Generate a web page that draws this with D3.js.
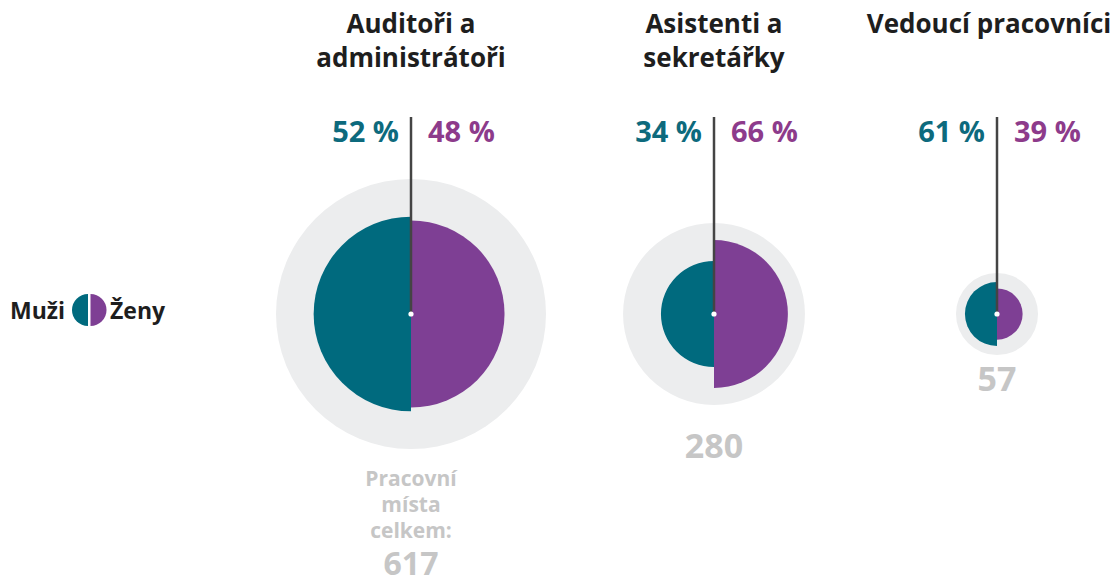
<!DOCTYPE html>
<html><head><meta charset="utf-8">
<script src="https://cdn.jsdelivr.net/npm/d3@7"></script>
<style>
html,body{margin:0;padding:0;background:#fff;}
svg{display:block;font-family:"Open Sans",sans-serif;font-weight:700;}
</style></head>
<body>
<svg id="c" width="1118" height="585"></svg>
<script>
// ---- data ----
const categories = [["Auditoři a","administrátoři"],["Asistenti a","sekretářky"],["Vedoucí pracovníci"]];
const totals = [617, 280, 57];
const menShare = [52, 34, 61];
const womenShare = [48, 66, 39];
const legendLabels = ["Muži","Ženy"];
const totalLabel = ["Pracovní","místa","celkem:"];

// ---- layout ----
const W = 1118, H = 585, cy = 314;
const groupX = [411, 714, 997];
const titleX = [411, 714, 989];
const colTeal = "#006a7e", colPurple = "#7e3f94";
const txtTeal = "#0d6a7d", txtPurple = "#8d3b8b";
const grey = "#ecedee", greyTxt = "#c6c6c6";

const svg = d3.select("#c");
const r = d3.scaleSqrt().domain([0, 617]).range([0, 135]);
const arc = d3.arc().innerRadius(0);

const g = svg.selectAll("g.grp").data(totals.map((t,i)=>({t,i}))).join("g")
  .attr("class","grp").attr("transform",d=>`translate(${groupX[d.i]},${cy})`);

g.append("circle").attr("r",d=>r(d.t)).attr("fill",grey);
g.append("path").attr("fill",colTeal)
  .attr("d",d=>arc({outerRadius:r(d.t*menShare[d.i]/100),startAngle:Math.PI,endAngle:2*Math.PI}));
g.append("path").attr("fill",colPurple)
  .attr("d",d=>arc({outerRadius:r(d.t*womenShare[d.i]/100),startAngle:0,endAngle:Math.PI}));
g.append("line").attr("x1",0).attr("x2",0).attr("y1",117-cy).attr("y2",0)
  .attr("stroke","#444").attr("stroke-width",2.5);
g.append("circle").attr("r",2.6).attr("fill","#fff");

// percent labels
g.append("text").attr("x",-12).attr("y",142-cy).attr("text-anchor","end")
  .attr("font-size",29).attr("fill",txtTeal).text(d=>menShare[d.i]+" %");
g.append("text").attr("x",17).attr("y",142-cy).attr("text-anchor","start")
  .attr("font-size",29).attr("fill",txtPurple).text(d=>womenShare[d.i]+" %");

// titles
categories.forEach((lines,i)=>{
  lines.forEach((ln,j)=>{
    svg.append("text").attr("x",titleX[i]).attr("y",33+j*34).attr("text-anchor","middle")
      .attr("font-size",26).attr("fill","#1e1e1e").text(ln);
  });
});

// totals
totalLabel.forEach((ln,j)=>{
  svg.append("text").attr("x",groupX[0]).attr("y",486+j*26).attr("text-anchor","middle")
    .attr("font-size",21).attr("fill",greyTxt).text(ln);
});
const numY = [575, 458, 391];
const numSize = [32, 34, 34];
totals.forEach((t,i)=>{
  svg.append("text").attr("x",groupX[i]).attr("y",numY[i]).attr("text-anchor","middle")
    .attr("font-size",numSize[i]).attr("fill",greyTxt).text(t);
});

// legend
const lg = svg.append("g");
lg.append("text").attr("x",10).attr("y",319).attr("font-size",23).attr("fill","#1e1e1e").text(legendLabels[0]);
lg.append("path").attr("transform","translate(88,310)").attr("fill",colTeal)
  .attr("d",arc({outerRadius:16,startAngle:Math.PI,endAngle:2*Math.PI}));
lg.append("path").attr("transform","translate(90.5,310)").attr("fill",colPurple)
  .attr("d",arc({outerRadius:16,startAngle:0,endAngle:Math.PI}));
lg.append("text").attr("x",110).attr("y",319).attr("font-size",23).attr("fill","#1e1e1e").text(legendLabels[1]);
</script>
</body></html>
